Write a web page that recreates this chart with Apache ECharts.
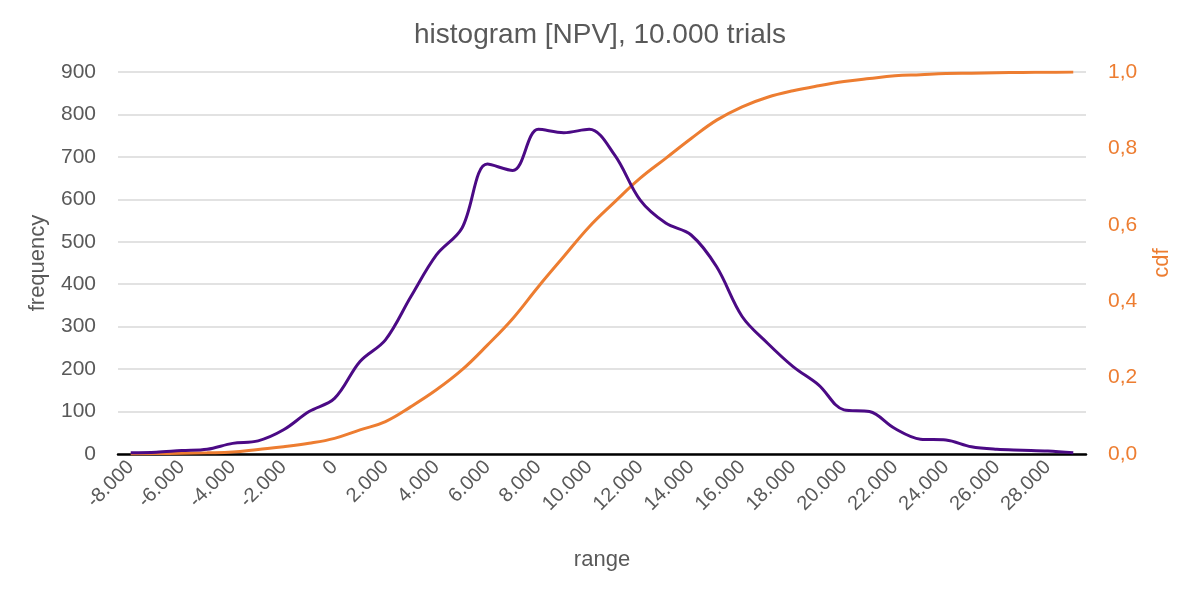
<!DOCTYPE html>
<html>
<head>
<meta charset="utf-8">
<script src="https://cdn.jsdelivr.net/npm/echarts@6/dist/echarts.min.js"></script>
<style>
html,body{margin:0;padding:0;background:#fff;}
#chart{width:1200px;height:600px;}
</style>
</head>
<body>
<div id="chart"></div>
<script>
const categories = ["-8.000","-7.000","-6.000","-5.000","-4.000","-3.000","-2.000","-1.000","0","1.000","2.000","3.000","4.000","5.000","6.000","7.000","8.000","9.000","10.000","11.000","12.000","13.000","14.000","15.000","16.000","17.000","18.000","19.000","20.000","21.000","22.000","23.000","24.000","25.000","26.000","27.000","28.000","29.000"];
const frequency = [3,4,8,11,25,31,57,100,131,218,269,371,469,532,683,668,765,757,765,704,598,544,516,441,324,261,206,163,104,100,60,35,33,17,11,9,7,3];
const cdf = [0.0,0.001,0.002,0.003,0.005,0.012,0.019,0.028,0.041,0.063,0.085,0.124,0.168,0.22,0.285,0.355,0.438,0.517,0.595,0.66,0.722,0.774,0.826,0.874,0.909,0.934,0.951,0.964,0.975,0.983,0.99,0.993,0.996,0.997,0.998,0.999,0.9995,1.0];
const leftTicks = {min:0, max:900, interval:100};
const rightTicks = {min:0, max:1, interval:0.2};

const chart = echarts.init(document.getElementById('chart'));
const FONT = '"Liberation Sans", Arial, Helvetica, sans-serif';
chart.setOption({
  animation:false,
  backgroundColor:'#ffffff',
  textStyle:{fontFamily:FONT},
  title:{
    text:'histogram [NPV], 10.000 trials',
    left:'center', top:16,
    textStyle:{fontFamily:FONT, fontSize:28, fontWeight:'normal', color:'#595959'}
  },
  grid:{left:118, right:114, top:72, bottom:146, containLabel:false},
  xAxis:{
    type:'category',
    data:categories,
    boundaryGap:true,
    name:'range',
    nameLocation:'middle',
    nameGap:95,
    nameTextStyle:{fontFamily:FONT, fontSize:22, color:'#595959'},
    axisLine:{show:true, lineStyle:{color:'#000000', width:2.5}},
    axisTick:{show:false},
    axisLabel:{interval:1, rotate:45, margin:10, fontFamily:FONT, fontSize:20, color:'#595959'},
    splitLine:{show:false}
  },
  yAxis:[
    {
      type:'value',
      min:leftTicks.min, max:leftTicks.max, interval:leftTicks.interval,
      name:'frequency',
      nameLocation:'middle',
      nameGap:69,
      nameRotate:90,
      nameTextStyle:{fontFamily:FONT, fontSize:22, color:'#595959'},
      axisLine:{show:false},
      axisTick:{show:false},
      axisLabel:{margin:22, fontFamily:FONT, fontSize:21, color:'#595959'},
      splitLine:{show:true, lineStyle:{color:'#d9d9d9', width:1.5}}
    },
    {
      type:'value',
      position:'right',
      min:rightTicks.min, max:rightTicks.max, interval:rightTicks.interval,
      name:'cdf',
      nameLocation:'middle',
      nameGap:65,
      nameRotate:90,
      nameTextStyle:{fontFamily:FONT, fontSize:22, color:'#ed7d31'},
      axisLine:{show:false},
      axisTick:{show:false},
      axisLabel:{margin:22, fontFamily:FONT, fontSize:21, color:'#ed7d31',
        formatter:function(v){return v.toFixed(1).replace('.', ',');}},
      splitLine:{show:false}
    }
  ],
  series:[
    {
      name:'cdf', type:'line', yAxisIndex:1, data:cdf,
      smooth:0.4, symbol:'none',
      lineStyle:{color:'#ed7d31', width:3},
      z:2
    },
    {
      name:'frequency', type:'line', yAxisIndex:0, data:frequency,
      smooth:0.35, symbol:'none',
      lineStyle:{color:'#4b0a85', width:3},
      z:3
    }
  ]
});
</script>
</body>
</html>
